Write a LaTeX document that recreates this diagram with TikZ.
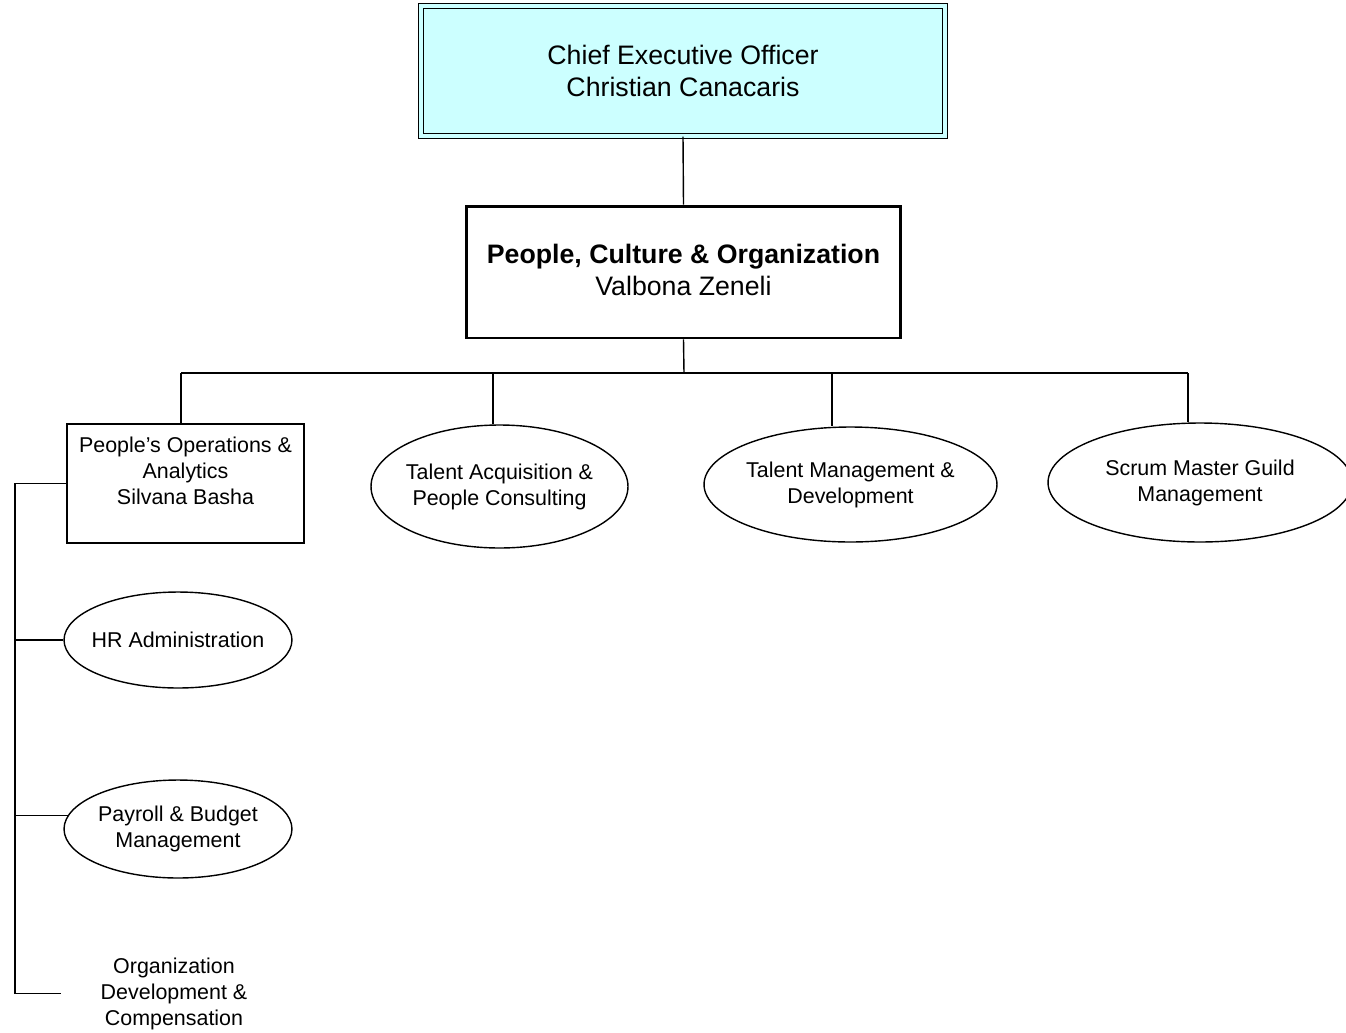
\documentclass[tikz,border=0pt]{standalone}
\usepackage{fontspec}
\setmainfont{Liberation Sans}
\usetikzlibrary{shapes.geometric}
\definecolor{ceofill}{RGB}{204,255,255}
\newcommand{\bigtxt}{\fontsize{15.2}{18.2}\selectfont}
\newcommand{\smalltxt}{\fontsize{12.2}{14.8}\selectfont}
\begin{document}
\begin{tikzpicture}[x=0.02cm,y=-0.02cm,line width=0.8pt,
	boxnode/.style={draw,rectangle,align=center,inner sep=0pt},
	unitnode/.style={draw,ellipse,align=center,inner xsep=-5pt,inner ysep=0pt,font=\smalltxt}]
	%\draw[help lines] (0,0) grid (1346,1032);
	\useasboundingbox (0,0) rectangle (1346,1032);
	\node[boxnode,fill=ceofill,double=ceofill,double distance=2.5pt,line width=0.6pt,minimum width=10.48cm,minimum height=2.6cm,font=\bigtxt] (ceo) at (683,71) {Chief Executive Officer\\Christian Canacaris};
	\node[boxnode,line width=1.7pt,minimum width=8.7cm,minimum height=2.64cm,font=\bigtxt] (pco) at (683.5,272) {\textbf{People, Culture \& Organization}\\Valbona Zeneli\\[-16pt]\mbox{}};
	\node[boxnode,minimum width=4.74cm,minimum height=2.38cm,font=\smalltxt] (poa) at (185.5,483.5) {People’s Operations \&\\Analytics\\Silvana Basha\\~};
	\node[unitnode,minimum width=5.14cm,minimum height=2.46cm] (tacq) at (499.5,486.5) {Talent Acquisition \&\\People Consulting};
	\node[unitnode,minimum width=5.86cm,minimum height=2.3cm] (tmgmt) at (850.5,484.5) {Talent Management \&\\Development};
	\node[unitnode,minimum width=6.08cm,minimum height=2.38cm] (scrum) at (1200,482.5) {Scrum Master Guild\\Management};
	\node[unitnode,minimum width=4.56cm,minimum height=1.92cm] (hr) at (178,640) {HR Administration};
	\node[unitnode,minimum width=4.56cm,minimum height=1.96cm] (payroll) at (178,829) {Payroll \& Budget\\Management};
	\node[unitnode,draw=none,minimum width=4.48cm,minimum height=1.96cm] (orgdev) at (174,993.5) {Organization\\Development \&\\Compensation};
	% bus lines
	\coordinate (bus) at (684,373);
	\coordinate (d1) at (181,373);
	\coordinate (d2) at (493,373);
	\coordinate (d3) at (832,373);
	\coordinate (d4) at (1188,373);
	\coordinate (rail) at (15,0);
	\draw (ceo.south) -- (pco.north);
	\draw (pco.south) -- (bus);
	\draw (d1) -- (d4);
	\draw (d1) -- (d1 |- poa.north);
	\draw (d2) -- (d2 |- tacq.north);
	\draw (d3) -- (d3 |- tmgmt.north);
	\draw (d4) -- (d4 |- scrum.north);
	\draw (poa.west) -- (poa.west -| rail) -- (orgdev.west -| rail) -- (orgdev.west);
	\draw (hr.west -| rail) -- (hr.west);
	\draw (payroll.173 -| rail) -- (payroll.173);
\end{tikzpicture}
\end{document}
